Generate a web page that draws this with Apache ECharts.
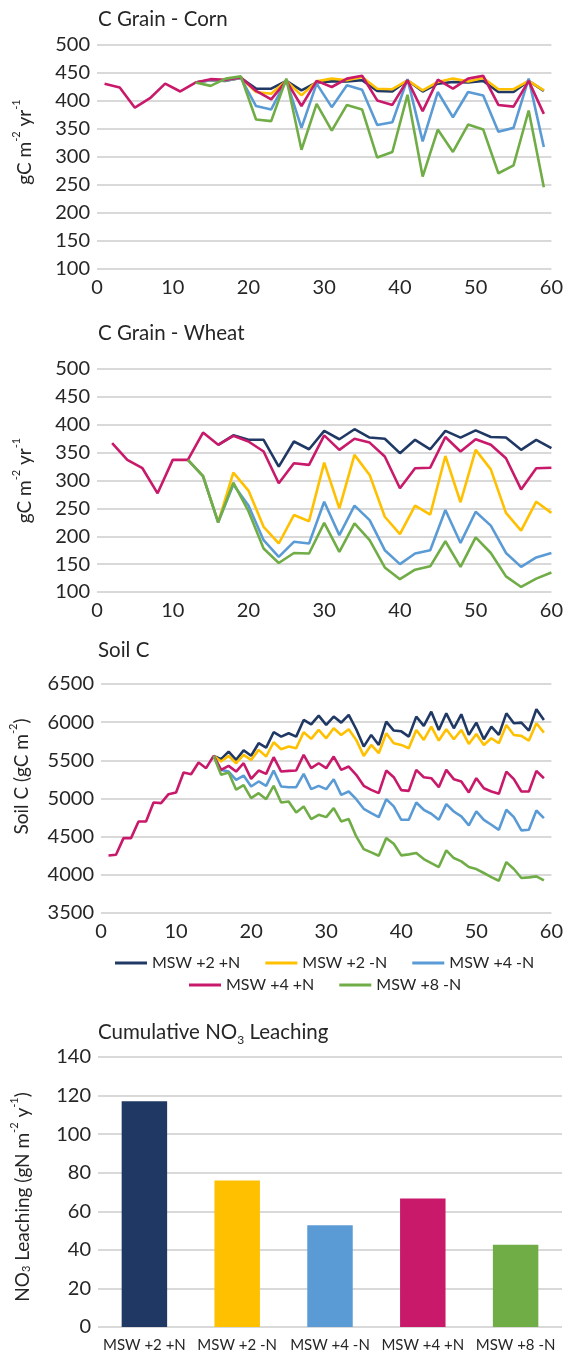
<!DOCTYPE html>
<html>
<head>
<meta charset="utf-8">
<script src="https://cdn.jsdelivr.net/npm/echarts@6/dist/echarts.min.js"></script>
<style>
  html, body { margin: 0; padding: 0; background: #fff; }
  #chart { width: 566px; height: 1355px; }
</style>
</head>
<body>
<div id="chart"></div>
<script>
// Scenario names (legend order)
const scenarios = ['MSW +2 +N', 'MSW +2 -N', 'MSW +4 -N', 'MSW +4 +N', 'MSW +8 -N'];
const colors = ['#203864', '#FFC000', '#5B9BD5', '#C8196A', '#70AD47'];

// Corn grain C, odd years
const cornYears = [1,3,5,7,9,11,13,15,17,19,21,23,25,27,29,31,33,35,37,39,41,43,45,47,49,51,53,55,57,59];
const cornMsw2PlusN  = [null,null,null,null,null,null,433,437,436,441,422,422,436,419,433,435,435,437,418,417,437,417,431,434,433,436,416,416,436,418];
const cornMsw2MinusN = [null,null,null,null,null,null,433,437,437,441,416,413,436,410,435,440,437,443,422,421,437,419,434,440,435,441,421,421,436,419];
const cornMsw4MinusN = [null,null,null,null,null,null,433,437,437,441,391,385,437,352,431,389,428,420,357,362,439,328,416,371,416,410,345,352,440,318];
const cornMsw4PlusN  = [431,424,388,405,431,417,433,439,438,442,418,403,436,391,436,425,440,445,401,393,437,382,438,422,440,445,393,390,436,377];
const cornMsw8MinusN = [null,null,null,null,null,null,433,427,440,444,367,364,440,313,395,347,393,385,299,309,411,265,349,309,358,349,271,285,383,246];

// Wheat grain C, even years
const wheatYears = [2,4,6,8,10,12,14,16,18,20,22,24,26,28,30,32,34,36,38,40,42,44,46,48,50,52,54,56,58,60];
const wheatMsw2PlusN  = [null,null,null,null,null,null,null,364,381,373,373,325,370,356,389,374,392,377,375,349,373,356,389,377,390,378,377,355,373,358];
const wheatMsw2MinusN = [null,null,null,null,null,337,308,225,314,282,217,187,238,227,332,250,346,310,235,204,255,239,344,261,355,320,242,210,262,242];
const wheatMsw4MinusN = [null,null,null,null,null,337,308,225,293,255,193,163,190,187,262,202,255,229,175,150,169,175,247,188,244,219,170,145,162,170];
const wheatMsw4PlusN  = [367,337,322,277,337,337,386,364,380,370,352,295,331,328,381,355,375,368,343,286,322,323,378,352,374,364,340,284,322,323];
const wheatMsw8MinusN = [null,null,null,null,null,337,308,225,296,245,178,152,170,169,224,172,223,193,144,123,140,146,191,145,198,170,128,109,124,135];

// Soil C, every year
const soilYears = [1,2,3,4,5,6,7,8,9,10,11,12,13,14,15,16,17,18,19,20,21,22,23,24,25,26,27,28,29,30,31,32,33,34,35,36,37,38,39,40,41,42,43,44,45,46,47,48,49,50,51,52,53,54,55,56,57,58,59];
const soilMsw2PlusN = [null,null,null,null,null,null,null,null,null,null,null,null,null,null,
  5558,5515,5615,5506,5633,5560,5724,5667,5868,5811,5855,5811,6029,5972,6086,
  5964,6073,5994,6095,5907,5680,5833,5702,6007,5890,5880,5811,6073,5951,6138,5898,6116,5920,6103,5833,
  5994,5776,5942,5833,6116,5986,5994,5890,6169,6029];
const soilMsw2MinusN = [null,null,null,null,null,null,null,null,null,null,null,null,null,null,
  5558,5484,5558,5462,5571,5506,5637,5550,5737,5645,5680,5659,5868,5781,5898,
  5789,5920,5833,5907,5768,5558,5702,5593,5855,5724,5702,5659,5898,5768,5942,5759,5907,5776,5898,5715,
  5846,5702,5789,5724,5964,5833,5820,5759,5986,5863];
const soilMsw4MinusN = [null,null,null,null,null,null,null,null,null,null,null,null,null,null,
  5558,5375,5353,5244,5300,5157,5223,5166,5366,5157,5148,5148,5323,5122,5166,
  5122,5253,5048,5092,4991,4865,4808,4756,4991,4896,4721,4721,4948,4852,4800,4721,4926,4830,4765,4647,
  4830,4721,4656,4590,4852,4756,4582,4590,4843,4743];
const soilMsw4PlusN = [4254,4263,4481,4481,4699,4699,4948,4939,5057,5079,5340,5318,5471,5397,
  5558,5375,5427,5353,5462,5257,5366,5323,5541,5353,5362,5366,5571,5397,5462,
  5397,5550,5375,5419,5310,5166,5113,5070,5366,5279,5110,5100,5375,5279,5266,5148,5375,5253,5223,5079,
  5266,5135,5092,5061,5353,5253,5092,5092,5362,5266];
const soilMsw8MinusN = [null,null,null,null,null,null,null,null,null,null,null,null,null,null,
  5558,5310,5340,5115,5176,5004,5070,4991,5166,4948,4961,4817,4896,4730,4787,
  4756,4874,4699,4730,4503,4337,4294,4250,4481,4407,4255,4268,4285,4207,4154,4102,4320,4220,4176,4102,
  4076,4024,3971,3923,4167,4076,3958,3967,3980,3928];

// Cumulative NO3 leaching per scenario
const leaching = [117.1, 76.0, 52.8, 66.6, 42.6];

const FONT = 'Lato';
const TXT = '#262626';
const GRID_LINE = '#D9D9D9';

function pairs(xs, ys) {
  return xs.map((x, i) => [x, ys[i]]);
}

const cornSets  = [cornMsw2PlusN, cornMsw2MinusN, cornMsw4MinusN, cornMsw4PlusN, cornMsw8MinusN];
const wheatSets = [wheatMsw2PlusN, wheatMsw2MinusN, wheatMsw4MinusN, wheatMsw4PlusN, wheatMsw8MinusN];
const soilSets  = [soilMsw2PlusN, soilMsw2MinusN, soilMsw4MinusN, soilMsw4PlusN, soilMsw8MinusN];

function lineSeries(xs, sets, idx) {
  return sets.map((ys, i) => ({
    type: 'line',
    name: scenarios[i],
    xAxisIndex: idx,
    yAxisIndex: idx,
    data: pairs(xs, ys),
    showSymbol: false,
    symbol: 'none',
    connectNulls: false,
    lineStyle: { color: colors[i], width: 2.6 },
    itemStyle: { color: colors[i] },
    emphasis: { disabled: true },
    z: 2 + i
  }));
}

const supRich = {
  n: { fontFamily: FONT, fontSize: 19, color: TXT, lineHeight: 23, verticalAlign: 'bottom' },
  s: { fontFamily: FONT, fontSize: 11, color: TXT, lineHeight: 11, verticalAlign: 'top' },
  b: { fontFamily: FONT, fontSize: 11, color: TXT, lineHeight: 11, verticalAlign: 'bottom' }
};

function lineXAxis(idx) {
  return {
    gridIndex: idx, type: 'value', min: 0, max: 60, interval: 10,
    axisLine: { show: false }, axisTick: { show: false }, splitLine: { show: false },
    axisLabel: { fontFamily: FONT, fontSize: 20, color: TXT, margin: 9 }
  };
}

// shift moves the rotated axis title along the axis (positive = upward)
function valueYAxis(idx, min, max, interval, name, gap, shift) {
  const pad = shift >= 0 ? [0, 0, 0, 2 * shift] : [0, -2 * shift, 0, 0];
  return {
    gridIndex: idx, type: 'value', min: min, max: max, interval: interval,
    axisLine: { show: false }, axisTick: { show: false },
    splitLine: { lineStyle: { color: GRID_LINE, width: 2 } },
    axisLabel: { fontFamily: FONT, fontSize: 20, color: TXT, margin: 7, formatter: (v) => String(v) },
    name: name, nameLocation: 'middle', nameGap: gap, nameRotate: 90,
    nameTextStyle: { rich: supRich, padding: pad }
  };
}

const titleStyle = { fontFamily: FONT, fontSize: 20.5, fontWeight: 'normal', color: TXT };
const legendText = { fontFamily: FONT, fontSize: 16, color: TXT };

const option = {
  backgroundColor: '#ffffff',
  animation: false,
  title: [
    { text: 'C Grain - Corn', left: 98, top: 9, padding: 0, textStyle: titleStyle },
    { text: 'C Grain - Wheat', left: 98, top: 323, padding: 0, textStyle: titleStyle },
    { text: 'Soil C', left: 98, top: 640, padding: 0, textStyle: titleStyle },
    {
      text: '{a|Cumulative NO}{s|3}{a| Leaching}', left: 98, top: 1019, padding: 0,
      textStyle: {
        rich: {
          a: { fontFamily: FONT, fontSize: 20.5, fontWeight: 'normal', color: TXT, lineHeight: 27 },
          s: { fontFamily: FONT, fontSize: 12, fontWeight: 'normal', color: TXT, lineHeight: 12, verticalAlign: 'bottom' }
        }
      }
    }
  ],
  legend: [
    {
      data: scenarios.slice(0, 3), left: 110, top: 950, orient: 'horizontal',
      icon: 'rect', itemWidth: 32, itemHeight: 3, itemGap: 25,
      textStyle: legendText, selectedMode: false
    },
    {
      data: scenarios.slice(3), left: 184, top: 972, orient: 'horizontal',
      icon: 'rect', itemWidth: 32, itemHeight: 3, itemGap: 25,
      textStyle: legendText, selectedMode: false
    }
  ],
  grid: [
    { left: 97, top: 45, width: 455, height: 224 },
    { left: 97, top: 369, width: 455, height: 223 },
    { left: 97, top: 684, width: 455, height: 229 },
    { left: 98, top: 1057, width: 464, height: 270 }
  ],
  xAxis: [
    lineXAxis(0),
    lineXAxis(1),
    lineXAxis(2),
    {
      gridIndex: 3, type: 'category', data: scenarios,
      axisLine: { show: false }, axisTick: { show: false },
      axisLabel: { fontFamily: FONT, fontSize: 15, color: TXT, margin: 11, interval: 0 }
    }
  ],
  yAxis: [
    valueYAxis(0, 100, 500, 50, '{n|gC m}{s|-2}{n| yr}{s|-1}', 63, 15),
    valueYAxis(1, 100, 500, 50, '{n|gC m}{s|-2}{n| yr}{s|-1}', 63, 0),
    valueYAxis(2, 3500, 6500, 500, '{n|Soil C (gC m}{s|-2}{n|)}', 70, 22),
    valueYAxis(3, 0, 140, 20, '{n|NO}{b|3}{n| Leaching (gN m}{s|-2}{n| y}{s|-1}{n|)}', 66, -5)
  ],
  series: [
    ...lineSeries(cornYears, cornSets, 0),
    ...lineSeries(wheatYears, wheatSets, 1),
    ...lineSeries(soilYears, soilSets, 2),
    {
      type: 'bar', xAxisIndex: 3, yAxisIndex: 3, barWidth: '49%',
      data: leaching.map((v, i) => ({ value: v, itemStyle: { color: colors[i] } })),
      emphasis: { disabled: true }
    }
  ]
};

const chart = echarts.init(document.getElementById('chart'), null, { renderer: 'canvas' });
chart.setOption(option);
</script>
</body>
</html>
